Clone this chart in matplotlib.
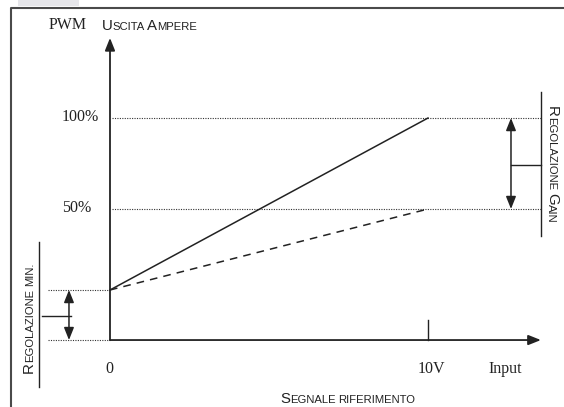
import numpy as np
import matplotlib
matplotlib.use("Agg")
import matplotlib.pyplot as plt
from matplotlib import transforms
from matplotlib.font_manager import FontProperties
from matplotlib.patches import Rectangle

# ingresso (V) e uscita PWM (%)
vin = [0, 10]
out_gain_max = [5.5, 100]
out_gain_half = [5.5, 50]
livelli = [100, 50]
livelli_lab = ["100%", "50%"]
base = -22          # quota dell'asse orizzontale nello schema
x_lab = ["0", "10V", "Input"]
x_lab_pos = [-0.15, 9.67, 11.9]

SERIF = "Liberation Serif"
SANS = "Liberation Sans"
INK = "#222222"
BIG, SMALL = 10.8, 8.1

fig = plt.figure(figsize=(5.64, 4.07), dpi=100)
ax = fig.add_axes([0, 0, 1, 1])
ax.set_xlim(-3.459, 14.277)
ax.set_ylim(-58.79, 164.84)
ax.axis("off")
r = fig.canvas.get_renderer()


def tw(s, size):
    w, h, d = r.get_text_width_height_descent(s, FontProperties(family=SANS, size=size), ismath=False)
    return w


def maiuscoletto(x, y, s, big, small, rot=0):
    c, sn = np.cos(np.deg2rad(rot)), np.sin(np.deg2rad(rot))
    off = 0
    for wi, word in enumerate(s.split(" ")):
        if wi:
            off += 0.3 * small
        groups = []
        for ch in word:
            sz = big if ch.isupper() else small
            if groups and groups[-1][1] == sz:
                groups[-1][0] += ch.upper()
            else:
                groups.append([ch.upper(), sz])
        for txt, sz in groups:
            tr = transforms.offset_copy(ax.transData, fig=fig, x=off * c, y=off * sn, units="dots")
            ax.text(x, y, txt, fontsize=sz, family=SANS, color=INK, rotation=rot,
                    rotation_mode="anchor", ha="left", va="baseline", transform=tr)
            off += tw(txt, sz)


# cornice
ax.plot([0.0195, 0.0195, 1.0], [0.0, 0.980, 0.980], transform=ax.transAxes,
        color="#4a4a4a", lw=1.5, clip_on=False)
ax.add_patch(Rectangle((0.032, 0.985), 0.108, 0.015, transform=ax.transAxes,
                       color="#e6e6ea", lw=0))

# assi
arr = dict(arrowstyle="-|>,head_length=0.75,head_width=0.3", color=INK, lw=1.3, shrinkA=0, shrinkB=0)
ax.annotate("", xy=(0, 144), xytext=(0, base), arrowprops=arr)
ax.annotate("", xy=(13.55, base), xytext=(0, base), arrowprops=arr)
ax.plot([10, 10], [base, -11], color=INK, lw=1)

# livelli tratteggiati
dot = dict(color="#333333", lw=0.8, ls=(0, (1, 1.2)))
for lv in livelli:
    ax.plot([0.05, 13.55], [lv, lv], **dot)
ax.plot([-1.95, 0], [out_gain_max[0]] * 2, **dot)
ax.plot([-1.95, 0], [base, base], **dot)

# rette
ax.plot(vin, out_gain_max, color=INK, lw=1.1)
ax.plot(vin, out_gain_half, color=INK, lw=1.1, ls=(0, (5, 4)))

# regolazione gain
darr = dict(arrowstyle="<|-|>,head_length=0.75,head_width=0.3", color=INK, lw=1.1, shrinkA=0, shrinkB=0)
ax.annotate("", xy=(12.61, livelli[0]), xytext=(12.61, livelli[1]), arrowprops=darr)
ax.plot([13.55, 13.55], [114.3, 35.2], color=INK, lw=1)
ax.plot([12.61, 13.55], [74.2, 74.2], color=INK, lw=1)
maiuscoletto(13.77, 106.5, "Regolazione Gain", BIG, SMALL, rot=-90)

# regolazione min
ax.annotate("", xy=(-1.29, out_gain_max[0]), xytext=(-1.29, base), arrowprops=darr)
ax.plot([-2.233, -2.233], [31.9, -47.8], color=INK, lw=1)
ax.plot([-2.14, -1.23], [-8.8, -8.8], color=INK, lw=1)
maiuscoletto(-2.42, -40.0, "Regolazione min.", BIG, SMALL, rot=90)

# testi
ax.text(-1.92, 148.9, "PWM", family=SERIF, fontsize=11.5, color=INK, ha="left", va="baseline")
maiuscoletto(-0.26, 148.4, "Uscita Ampere", BIG, SMALL)
for lv, lab in zip(livelli, livelli_lab):
    ax.text(-1.51, lv - 1.6, lab, family=SERIF, fontsize=11.5, color=INK, ha="left", va="baseline")
for xp, lab in zip(x_lab_pos, x_lab):
    ax.text(xp, -40.1, lab, family=SERIF, fontsize=11.5, color=INK, ha="left", va="baseline")
maiuscoletto(5.35, -56.6, "Segnale riferimento", BIG, SMALL)

fig.savefig("out.png", dpi=100)
